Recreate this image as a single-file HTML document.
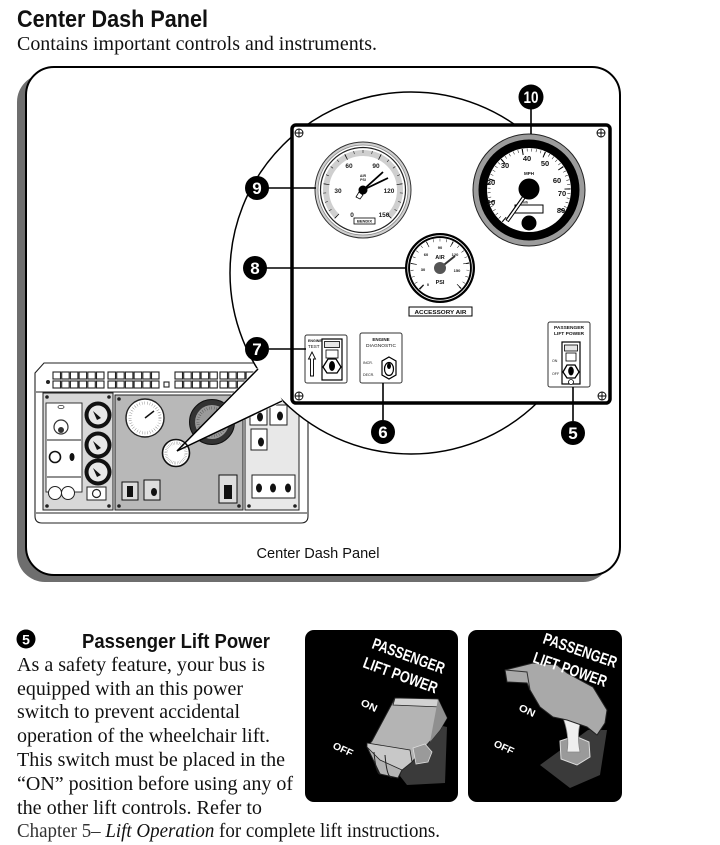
<!DOCTYPE html>
<html><head><meta charset="utf-8"><style>
html,body{margin:0;padding:0;background:#fff;}
svg{display:block;}
.s{font-family:"Liberation Sans",Arial,sans-serif;}
.r{font-family:"Liberation Serif","Times New Roman",serif;}
</style></head><body>
<svg width="720" height="845" viewBox="0 0 720 845" xmlns="http://www.w3.org/2000/svg">
<rect width="720" height="845" fill="#fff"/>
<!-- Heading -->
<text class="s" x="17" y="27" font-size="24" font-weight="bold" fill="#111" textLength="191" lengthAdjust="spacingAndGlyphs">Center Dash Panel</text>
<text class="r" x="17" y="50" font-size="20" fill="#111" textLength="360" lengthAdjust="spacingAndGlyphs">Contains important controls and instruments.</text>

<!-- Frame -->
<rect x="17" y="74" width="594" height="508" rx="28" fill="#6e6e6e"/>
<rect x="26" y="67" width="594" height="508" rx="28" fill="#fff" stroke="#000" stroke-width="2"/>

<!-- Small dashboard -->
<g stroke="#222" stroke-width="1.1">
<path d="M35 373 L44 363 L308 363 L308 516 Q308 523 301 523 L42 523 Q35 523 35 516 Z" fill="#fff"/>
<line x1="36" y1="513" x2="307" y2="513"/>
<line x1="36" y1="392" x2="307" y2="392"/>
</g>
<circle cx="48" cy="382" r="2" fill="#222"/>
<g fill="#fff" stroke="#222" stroke-width="1.1">
<rect x="53" y="372" width="7.5" height="7"/><rect x="61.7" y="372" width="7.5" height="7"/><rect x="70.4" y="372" width="7.5" height="7"/><rect x="79.1" y="372" width="7.5" height="7"/><rect x="87.8" y="372" width="7.5" height="7"/><rect x="96.5" y="372" width="7.5" height="7"/>
<rect x="53" y="381" width="7.5" height="7"/><rect x="61.7" y="381" width="7.5" height="7"/><rect x="70.4" y="381" width="7.5" height="7"/><rect x="79.1" y="381" width="7.5" height="7"/><rect x="87.8" y="381" width="7.5" height="7"/><rect x="96.5" y="381" width="7.5" height="7"/>
<rect x="108" y="372" width="7.5" height="7"/><rect x="116.7" y="372" width="7.5" height="7"/><rect x="125.4" y="372" width="7.5" height="7"/><rect x="134.1" y="372" width="7.5" height="7"/><rect x="142.8" y="372" width="7.5" height="7"/><rect x="151.5" y="372" width="7.5" height="7"/>
<rect x="108" y="381" width="7.5" height="7"/><rect x="116.7" y="381" width="7.5" height="7"/><rect x="125.4" y="381" width="7.5" height="7"/><rect x="134.1" y="381" width="7.5" height="7"/><rect x="142.8" y="381" width="7.5" height="7"/><rect x="151.5" y="381" width="7.5" height="7"/>
<rect x="164" y="382" width="5" height="5"/>
<rect x="175" y="372" width="7.5" height="7"/><rect x="183.7" y="372" width="7.5" height="7"/><rect x="192.4" y="372" width="7.5" height="7"/><rect x="201.1" y="372" width="7.5" height="7"/><rect x="209.8" y="372" width="7.5" height="7"/>
<rect x="175" y="381" width="7.5" height="7"/><rect x="183.7" y="381" width="7.5" height="7"/><rect x="192.4" y="381" width="7.5" height="7"/><rect x="201.1" y="381" width="7.5" height="7"/><rect x="209.8" y="381" width="7.5" height="7"/>
<rect x="220" y="372" width="7.5" height="7"/><rect x="228.7" y="372" width="7.5" height="7"/><rect x="237.4" y="372" width="7.5" height="7"/><rect x="246.1" y="372" width="7.5" height="7"/>
<rect x="220" y="381" width="7.5" height="7"/><rect x="228.7" y="381" width="7.5" height="7"/><rect x="237.4" y="381" width="7.5" height="7"/><rect x="246.1" y="381" width="7.5" height="7"/>
</g>
<!-- left panel -->
<rect x="43" y="393" width="70" height="117" fill="#d8d8d8" stroke="#222" stroke-width="1"/>
<rect x="46" y="403" width="36" height="89" fill="#fff" stroke="#222" stroke-width=".9"/>
<ellipse cx="61" cy="407" rx="3" ry="1.6" fill="none" stroke="#333" stroke-width=".8"/>
<circle cx="61" cy="427" r="7" fill="#fff" stroke="#333" stroke-width="1.2"/>
<circle cx="61" cy="430" r="3" fill="#333"/>
<line x1="47" y1="440" x2="81" y2="440" stroke="#222" stroke-width="1"/>
<circle cx="55" cy="457" r="5.5" fill="#fff" stroke="#111" stroke-width="1.6"/>
<ellipse cx="72" cy="457" rx="2.5" ry="4" fill="#111"/>
<line x1="47" y1="477" x2="81" y2="477" stroke="#222" stroke-width="1"/>
<circle cx="55" cy="493" r="6.5" fill="#fff" stroke="#222" stroke-width="1"/>
<circle cx="68" cy="493" r="6.5" fill="#fff" stroke="#222" stroke-width="1"/>
<g>
<circle cx="98" cy="415" r="13.5" fill="#111"/><circle cx="98" cy="415" r="9.5" fill="#e8e8e8"/><path d="M93 411 L101 418 L97 420 Z" fill="#111"/>
<circle cx="98" cy="445" r="13.5" fill="#111"/><circle cx="98" cy="445" r="9.5" fill="#e8e8e8"/><path d="M93 441 L101 448 L97 450 Z" fill="#111"/>
<circle cx="98" cy="472" r="13.5" fill="#111"/><circle cx="98" cy="472" r="9.5" fill="#e8e8e8"/><path d="M93 468 L101 475 L97 477 Z" fill="#111"/>
</g>
<rect x="87" y="487" width="19" height="13" fill="#fff" stroke="#222" stroke-width="1"/>
<circle cx="96.5" cy="493.5" r="4" fill="none" stroke="#222" stroke-width="1.2"/>
<g fill="#222"><circle cx="47" cy="397" r="1.8"/><circle cx="109" cy="397" r="1.8"/><circle cx="47" cy="506" r="1.8"/><circle cx="109" cy="506" r="1.8"/></g>
<!-- middle panel -->
<rect x="115" y="395" width="128" height="115" fill="#b8b8b8" stroke="#222" stroke-width="1"/>
<circle cx="145" cy="418" r="19" fill="#fff" stroke="#222" stroke-width="1.4"/>
<circle cx="145" cy="418" r="15" fill="none" stroke="#333" stroke-width="3" pathLength="360" stroke-dasharray="1 9" />
<line x1="145" y1="418" x2="154" y2="411" stroke="#111" stroke-width="1.5"/>
<circle cx="212" cy="422" r="22.5" fill="#333" stroke="#111"/>
<circle cx="212" cy="422" r="17" fill="#9a9a9a"/>
<circle cx="212" cy="422" r="14" fill="none" stroke="#111" stroke-width="3" pathLength="360" stroke-dasharray="1 9"/>
<rect x="122" y="482" width="16" height="18" fill="#ddd" stroke="#111" stroke-width="1"/><rect x="127" y="486" width="6" height="11" fill="#111"/>
<rect x="144" y="480" width="16" height="20" fill="#ddd" stroke="#111" stroke-width="1"/><ellipse cx="154" cy="492" rx="3" ry="4" fill="#111"/>
<rect x="219" y="475" width="18" height="28" fill="#ddd" stroke="#111" stroke-width="1"/><rect x="224" y="485" width="8" height="14" fill="#111"/>
<g fill="#222"><circle cx="119" cy="399" r="1.8"/><circle cx="239" cy="399" r="1.8"/><circle cx="119" cy="506" r="1.8"/><circle cx="239" cy="506" r="1.8"/></g>
<!-- right panel -->
<rect x="245" y="395" width="54" height="115" fill="#e8e8e8" stroke="#222" stroke-width="1"/>
<rect x="250" y="408" width="17" height="17" fill="#fff" stroke="#222"/><ellipse cx="260" cy="417" rx="3" ry="4.5" fill="#111"/>
<rect x="270" y="405" width="17" height="20" fill="#fff" stroke="#222"/><ellipse cx="280" cy="416" rx="3" ry="4.5" fill="#111"/>
<rect x="251" y="429" width="16" height="21" fill="#fff" stroke="#222"/><ellipse cx="261" cy="442" rx="3" ry="4.5" fill="#111"/>
<rect x="252" y="475" width="43" height="23" fill="#fff" stroke="#222"/>
<g fill="#111"><ellipse cx="259" cy="488" rx="3" ry="4.5"/><ellipse cx="273" cy="488" rx="3" ry="4.5"/><ellipse cx="288" cy="488" rx="3" ry="4.5"/></g>
<g fill="#222"><circle cx="249" cy="506" r="1.8"/><circle cx="295" cy="506" r="1.8"/></g>

<!-- magnifier circle -->
<circle cx="411" cy="273" r="181" fill="#fff" stroke="#000" stroke-width="1.5"/>
<!-- wedge -->
<polygon points="177,451 257,368 271,378 283,402" fill="#fff"/>
<circle cx="176" cy="453" r="13.5" fill="#fff" stroke="#111" stroke-width="1.6"/>
<circle cx="176" cy="453" r="10" fill="none" stroke="#111" stroke-width="3" pathLength="360" stroke-dasharray="1 8"/>
<line x1="177" y1="451" x2="258" y2="369" stroke="#000" stroke-width="1.5"/>
<line x1="177" y1="451" x2="282" y2="401" stroke="#000" stroke-width="1.5"/>

<!-- main panel -->
<rect x="292" y="125" width="318" height="278" rx="4" fill="#fff" stroke="#000" stroke-width="3.5"/>
<g stroke="#000" stroke-width=".9" fill="none">
<circle cx="299" cy="133" r="4"/><path d="M295 133h8M299 129v8"/>
<circle cx="601" cy="133" r="4"/><path d="M597 133h8M601 129v8"/>
<circle cx="299" cy="396" r="4"/><path d="M295 396h8M299 392v8"/>
<circle cx="602" cy="396" r="4"/><path d="M598 396h8M602 392v8"/>
</g>

<!-- Gauge 9 -->
<circle cx="363" cy="190" r="48" fill="#d0d0d0" stroke="#333" stroke-width="1"/>
<circle cx="363" cy="190" r="45" fill="#fff" stroke="#888" stroke-width=".8"/>
<circle cx="363" cy="190" r="42.5" fill="#fff" stroke="#222" stroke-width="1.2"/>
<circle cx="363" cy="190" r="37" fill="none" stroke="#cfcfcf" stroke-width="6" pathLength="360" stroke-dasharray="270 90" transform="rotate(135 363 190)"/>
<circle cx="363" cy="190" r="38.5" fill="none" stroke="#111" stroke-width="3" pathLength="360" stroke-dasharray="0.8 12.7 0.8 12.7 0.8 12.7 0.8 12.7 0.8 12.7 0.8 12.7 0.8 12.7 0.8 12.7 0.8 12.7 0.8 12.7 0.8 12.7 0.8 12.7 0.8 12.7 0.8 12.7 0.8 12.7 0.8 12.7 0.8 12.7 0.8 12.7 0.8 12.7 0.8 12.7 0.8 89.2" transform="rotate(134.6 363 190)"/>
<circle cx="363" cy="190" r="37" fill="none" stroke="#111" stroke-width="6" pathLength="360" stroke-dasharray="1.2 52.8 1.2 52.8 1.2 52.8 1.2 52.8 1.2 52.8 1.2 88.8" transform="rotate(134.4 363 190)"/>
<g class="s" font-size="6.5" font-weight="bold" fill="#222" text-anchor="middle">
<text x="352" y="217">0</text><text x="338" y="193">30</text><text x="349" y="168">60</text><text x="376" y="168">90</text><text x="389" y="193">120</text><text x="384" y="217">150</text>
</g>
<g class="s" font-size="3.6" font-weight="bold" fill="#222" text-anchor="middle"><text x="363" y="177">AIR</text><text x="363" y="181">PSI</text></g>
<line x1="363" y1="190" x2="383" y2="172" stroke="#000" stroke-width="1.8"/>
<line x1="363" y1="190" x2="388" y2="178" stroke="#000" stroke-width="1.8"/>
<path d="M356 197 L359 192 L363 195 L360 199 Z" fill="#fff" stroke="#000" stroke-width=".8"/>
<circle cx="363" cy="190" r="4.5" fill="#000"/>
<rect x="354" y="218" width="21" height="6" fill="#fff" stroke="#000" stroke-width=".8"/>
<text class="s" x="364.5" y="222.7" font-size="4" font-weight="bold" text-anchor="middle" fill="#111">BENDIX</text>

<!-- Gauge 10 -->
<circle cx="529" cy="190" r="56" fill="#9c9c9c" stroke="#222" stroke-width="1"/>
<circle cx="529" cy="190" r="50.5" fill="#000"/>
<circle cx="529" cy="190" r="42" fill="#fff"/>
<circle cx="529" cy="190" r="40" fill="none" stroke="#000" stroke-width="3" pathLength="360" stroke-dasharray="0.7 5.825 0.7 5.825 0.7 5.825 0.7 5.825 0.7 5.825 0.7 5.825 0.7 5.825 0.7 5.825 0.7 5.825 0.7 5.825 0.7 5.825 0.7 5.825 0.7 5.825 0.7 5.825 0.7 5.825 0.7 5.825 0.7 5.825 0.7 5.825 0.7 5.825 0.7 5.825 0.7 5.825 0.7 5.825 0.7 5.825 0.7 5.825 0.7 5.825 0.7 5.825 0.7 5.825 0.7 5.825 0.7 5.825 0.7 5.825 0.7 5.825 0.7 5.825 0.7 5.825 0.7 5.825 0.7 5.825 0.7 5.825 0.7 5.825 0.7 5.825 0.7 5.825 0.7 5.825 0.7 98.3" transform="rotate(130 529 190)"/>
<circle cx="529" cy="190" r="38.5" fill="none" stroke="#000" stroke-width="6" pathLength="360" stroke-dasharray="1.5 31.125 1.5 31.125 1.5 31.125 1.5 31.125 1.5 31.125 1.5 31.125 1.5 31.125 1.5 31.125 1.5 97.5" transform="rotate(129.3 529 190)"/>
<g class="s" font-size="7.5" font-weight="bold" fill="#111" text-anchor="middle">
<text x="491" y="205">10</text><text x="491" y="185">20</text><text x="505" y="168">30</text><text x="527" y="161">40</text><text x="545" y="166">50</text><text x="557" y="183">60</text><text x="562" y="196">70</text><text x="561" y="213">80</text>
</g>
<text class="s" x="529" y="175" font-size="4.5" font-weight="bold" text-anchor="middle" fill="#111">MPH</text>
<text class="s" x="524" y="203.5" font-size="3.5" font-weight="bold" text-anchor="middle" fill="#111">km/h</text>
<rect x="515" y="205" width="28" height="8" fill="#fff" stroke="#000" stroke-width="1"/>
<line x1="529" y1="190" x2="507" y2="221" stroke="#000" stroke-width="4"/>
<line x1="529" y1="190" x2="507.5" y2="220.5" stroke="#fff" stroke-width="1.8"/>
<circle cx="529" cy="189" r="10.5" fill="#000"/>
<circle cx="529" cy="223" r="7.5" fill="#000"/>

<!-- Gauge 8 -->
<circle cx="440" cy="268" r="35" fill="#000"/>
<circle cx="440" cy="268" r="32.3" fill="none" stroke="#fff" stroke-width=".8"/>
<circle cx="440" cy="268" r="30" fill="#fff"/>
<circle cx="440" cy="268" r="28" fill="none" stroke="#000" stroke-width="3" pathLength="360" stroke-dasharray="0.9 12.6 0.9 12.6 0.9 12.6 0.9 12.6 0.9 12.6 0.9 12.6 0.9 12.6 0.9 12.6 0.9 12.6 0.9 12.6 0.9 12.6 0.9 12.6 0.9 12.6 0.9 12.6 0.9 12.6 0.9 12.6 0.9 12.6 0.9 12.6 0.9 12.6 0.9 12.6 0.9 89.1" transform="rotate(134.5 440 268)"/>
<circle cx="440" cy="268" r="26.5" fill="none" stroke="#000" stroke-width="6" pathLength="360" stroke-dasharray="1.4 52.6 1.4 52.6 1.4 52.6 1.4 52.6 1.4 52.6 1.4 88.6" transform="rotate(134.3 440 268)"/>
<g class="s" font-size="4" font-weight="bold" fill="#111" text-anchor="middle">
<text x="428" y="286">0</text><text x="423" y="271">30</text><text x="426" y="256">60</text><text x="440" y="249">90</text><text x="455" y="256">120</text><text x="457" y="272">150</text>
</g>
<g class="s" font-size="5.5" font-weight="bold" fill="#111" text-anchor="middle"><text x="440" y="259">AIR</text><text x="440" y="284">PSI</text></g>
<line x1="440" y1="268" x2="455" y2="256" stroke="#333" stroke-width="2"/>
<circle cx="440" cy="268" r="6" fill="#555"/>
<rect x="409" y="307" width="63" height="9" fill="#fff" stroke="#000" stroke-width="1"/>
<text class="s" x="440.5" y="314" font-size="5.5" font-weight="bold" text-anchor="middle" fill="#111" textLength="52" lengthAdjust="spacingAndGlyphs">ACCESSORY AIR</text>

<!-- Switch 7 -->
<rect x="305" y="335" width="42" height="48" rx="2" fill="#fff" stroke="#333" stroke-width="1"/>
<text class="s" x="308" y="342" font-size="3.6" font-weight="bold" fill="#111">ENGINE</text>
<text class="s" x="308" y="348" font-size="4.5" fill="#111">TEST</text>
<path d="M310.5 376 V359 H308.5 L312 352 L315.5 359 H313.5 V376 Z" fill="#fff" stroke="#000" stroke-width=".9"/>
<rect x="322" y="339" width="20" height="41" fill="#fff" stroke="#000" stroke-width="1.2"/>
<rect x="324.5" y="341.5" width="15" height="6" fill="#e6e6e6" stroke="#000" stroke-width=".8"/>
<rect x="326" y="350" width="12" height="8" fill="#fff" stroke="#000" stroke-width=".8"/>
<path d="M323 367 L328 359 L336 359 L341 367 L337 373 L327 373 Z" fill="#fff" stroke="#000" stroke-width="1.3"/>
<ellipse cx="332" cy="366" rx="3" ry="5" fill="#000"/>
<!-- Switch 6 -->
<rect x="360" y="333" width="42" height="50" rx="2" fill="#fff" stroke="#333" stroke-width="1"/>
<text class="s" x="381" y="341" font-size="4.5" font-weight="bold" text-anchor="middle" fill="#111">ENGINE</text>
<text class="s" x="381" y="347" font-size="4.5" text-anchor="middle" fill="#111" textLength="30" lengthAdjust="spacingAndGlyphs">DIAGNOSTIC</text>
<text class="s" x="363" y="364" font-size="3.6" fill="#111">INCR.</text>
<text class="s" x="363" y="376" font-size="3.6" fill="#111">DECR.</text>
<polygon points="389,357 396,361 396,375 389,379 382,375 382,361" fill="#fff" stroke="#000" stroke-width="1.2"/>
<ellipse cx="389" cy="369" rx="4.5" ry="6.5" fill="#fff" stroke="#000" stroke-width="1.2"/>
<ellipse cx="389" cy="366" rx="2" ry="3" fill="#000"/>
<!-- Switch 5 -->
<rect x="548" y="322" width="42" height="65" rx="2" fill="#fff" stroke="#333" stroke-width="1"/>
<text class="s" x="569" y="329" font-size="4.5" font-weight="bold" text-anchor="middle" fill="#111" textLength="30" lengthAdjust="spacingAndGlyphs">PASSENGER</text>
<text class="s" x="569" y="335" font-size="4.5" font-weight="bold" text-anchor="middle" fill="#111" textLength="30" lengthAdjust="spacingAndGlyphs">LIFT POWER</text>
<text class="s" x="552" y="362" font-size="3.6" fill="#111">ON</text>
<text class="s" x="552" y="375" font-size="3.6" fill="#111">OFF</text>
<rect x="562" y="342" width="18" height="42" fill="#fff" stroke="#000" stroke-width="1.2"/>
<rect x="564.5" y="345" width="13" height="6" fill="#e6e6e6" stroke="#000" stroke-width=".8"/>
<rect x="566" y="353" width="10" height="8" fill="#fff" stroke="#000" stroke-width=".8"/>
<path d="M563 372 L567 365 L575 365 L579 372 L575 378 L567 378 Z" fill="#fff" stroke="#000" stroke-width="1.3"/>
<ellipse cx="571" cy="371" rx="2.8" ry="4.5" fill="#000"/>
<circle cx="571" cy="382" r="2.5" fill="#fff" stroke="#000" stroke-width=".8"/>

<!-- Callouts -->
<g stroke="#000" stroke-width="1.6">
<line x1="531" y1="108" x2="531" y2="134"/>
<line x1="268" y1="188" x2="316" y2="188"/>
<line x1="266" y1="268" x2="406" y2="268"/>
<line x1="269" y1="349" x2="306" y2="349"/>
<line x1="383" y1="420" x2="383" y2="383"/>
<line x1="573" y1="421" x2="573" y2="387"/>
</g>
<g fill="#000">
<circle cx="531" cy="97" r="12.5"/>
<circle cx="257" cy="188" r="12"/>
<circle cx="255" cy="268" r="12"/>
<circle cx="257" cy="349" r="12"/>
<circle cx="383" cy="432" r="12"/>
<circle cx="573" cy="433" r="12"/>
</g>
<g class="s" fill="#fff" font-weight="bold" font-size="17" text-anchor="middle">
<text x="531" y="103" textLength="15" lengthAdjust="spacingAndGlyphs">10</text>
<text x="257" y="194">9</text>
<text x="255" y="274">8</text>
<text x="257" y="355">7</text>
<text x="383" y="438">6</text>
<text x="573" y="439">5</text>
</g>

<text class="s" x="318" y="558" font-size="14.5" text-anchor="middle" fill="#111" textLength="123" lengthAdjust="spacingAndGlyphs">Center Dash Panel</text>

<!-- Section 5 -->
<circle cx="26" cy="639" r="9.5" fill="#000"/>
<text class="s" x="26" y="644.5" font-size="14" font-weight="bold" fill="#fff" text-anchor="middle">5</text>
<text class="s" x="82" y="648" font-size="20" font-weight="bold" fill="#111" textLength="188" lengthAdjust="spacingAndGlyphs">Passenger Lift Power</text>
<g class="r" font-size="20" fill="#111">
<text x="17" y="671" textLength="248" lengthAdjust="spacingAndGlyphs">As a safety feature, your bus is</text>
<text x="17" y="695" textLength="226" lengthAdjust="spacingAndGlyphs">equipped with an this power</text>
<text x="17" y="718" textLength="223" lengthAdjust="spacingAndGlyphs">switch to prevent accidental</text>
<text x="17" y="742" textLength="253" lengthAdjust="spacingAndGlyphs">operation of the wheelchair lift.</text>
<text x="17" y="766" textLength="268" lengthAdjust="spacingAndGlyphs">This switch must be placed in the</text>
<text x="17" y="790" textLength="276" lengthAdjust="spacingAndGlyphs">“ON” position before using any of</text>
<text x="17" y="814" textLength="245" lengthAdjust="spacingAndGlyphs">the other lift controls.  Refer to</text>
<text x="17" y="837" textLength="423" lengthAdjust="spacingAndGlyphs"><tspan fill="#333">Chapter 5– </tspan><tspan font-style="italic">Lift Operation</tspan> for complete lift instructions.</text>
</g>

<!-- Photo 1 -->
<rect x="305" y="630" width="153" height="172" rx="9" fill="#000"/>
<polygon points="415,720 447,727 445,783 407,785 400,776" fill="#3a3a3a"/>
<polygon points="395,698 438,699 447,718 440,730 412,762 402,770 398,778 380,774 367,747 372,741" fill="#b4b4b4" stroke="#222" stroke-width="1"/>
<polygon points="395,698 438,699 441,707 393,705" fill="#d2d2d2" stroke="#222" stroke-width=".8"/>
<polygon points="438,699 447,718 440,730 430,742 436,710" fill="#8f8f8f"/>
<polygon points="367,743 410,750 412,762 402,770 380,760 367,747" fill="#c8c8c8" stroke="#222" stroke-width=".8"/>
<path d="M374 752 Q376 776 381 774 M385 755 Q387 779 392 777" fill="none" stroke="#222" stroke-width="1"/>
<polygon points="413,748 425,744 432,752 428,762 416,764" fill="#9a9a9a" stroke="#ddd" stroke-width=".8"/>
<g class="s" fill="#fff" font-weight="bold">
<text transform="translate(371,648) rotate(20)" font-size="16" textLength="76" lengthAdjust="spacingAndGlyphs">PASSENGER</text>
<text transform="translate(362,667) rotate(20)" font-size="16" textLength="78" lengthAdjust="spacingAndGlyphs">LIFT POWER</text>
<text transform="translate(360,705) rotate(25)" font-size="10" textLength="17" lengthAdjust="spacingAndGlyphs">ON</text>
<text transform="translate(332,748) rotate(25)" font-size="10" textLength="21" lengthAdjust="spacingAndGlyphs">OFF</text>
</g>

<!-- Photo 2 -->
<rect x="468" y="630" width="154" height="172" rx="9" fill="#000"/>
<polygon points="540,765 588,730 607,730 600,775 570,788" fill="#3a3a3a"/>
<polygon points="560,741 575,736 589,742 590,757 577,765 561,759" fill="#9a9a9a" stroke="#ddd" stroke-width="1"/>
<path d="M562 715 Q570 735 567 752 L580 752 Q576 732 582 718 Z" fill="#eee" stroke="#888" stroke-width=".8"/>
<polygon points="505,670 533,663 557,665 567,673 593,687 607,710 605,723 597,735 587,727 567,720 553,717 540,707 530,690 527,683 507,682" fill="#a9a9a9" stroke="#222" stroke-width="1"/>
<path d="M505 670 L527 672 L530 690" fill="none" stroke="#333" stroke-width="1"/>
<g class="s" fill="#fff" font-weight="bold">
<text transform="translate(542,643) rotate(19)" font-size="16" textLength="77" lengthAdjust="spacingAndGlyphs">PASSENGER</text>
<text transform="translate(532,662) rotate(19)" font-size="16" textLength="77" lengthAdjust="spacingAndGlyphs">LIFT POWER</text>
<text transform="translate(518,710) rotate(25)" font-size="10" textLength="17" lengthAdjust="spacingAndGlyphs">ON</text>
<text transform="translate(493,746) rotate(25)" font-size="10" textLength="21" lengthAdjust="spacingAndGlyphs">OFF</text>
</g>
</svg>
</body></html>
